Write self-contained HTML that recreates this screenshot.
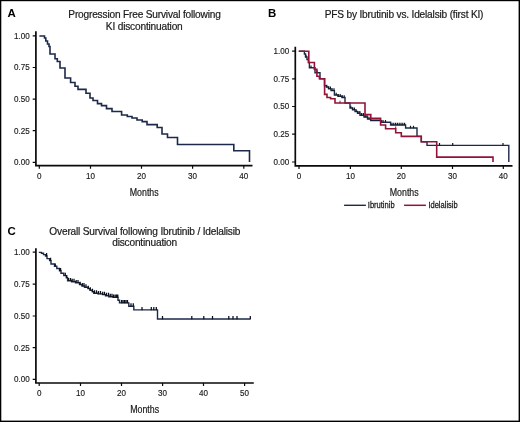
<!DOCTYPE html>
<html lang="en">
<head>
<meta charset="utf-8">
<title>Survival following KI discontinuation</title>
<style>
html,body{margin:0;padding:0;background:#fff;}
body{width:520px;height:422px;overflow:hidden;}
svg{display:block;}
text{font-family:"Liberation Sans",Arial,Helvetica,sans-serif;fill:#1a1a1a;}
.tk{font-size:8.6px;stroke:#1a1a1a;stroke-width:0.15px;}
.tt{font-size:10.4px;letter-spacing:-0.19px;stroke:#1a1a1a;stroke-width:0.2px;}
.pl{font-size:11.8px;font-weight:bold;fill:#000;}
.mo{font-size:10.2px;stroke:#1a1a1a;stroke-width:0.2px;}
.lg{font-size:8.2px;stroke:#1a1a1a;stroke-width:0.25px;}
</style>
</head>
<body>
<svg width="520" height="422" viewBox="0 0 520 422">
<rect x="0" y="0" width="520" height="422" fill="#fff"/>
<rect x="0.6" y="0.5" width="518.7" height="420.8" fill="none" stroke="#000" stroke-width="1.4"/>
<path d="M35.9,31.2 V165.7 H252.5" fill="none" stroke="#0a0a0a" stroke-width="1.7" stroke-linejoin="miter"/>
<path d="M32.699999999999996,35.9H35.9 M32.699999999999996,67.5H35.9 M32.699999999999996,99.2H35.9 M32.699999999999996,130.7H35.9 M32.699999999999996,162.4H35.9 M39.3,165.7V168.7 M90.5,165.7V168.7 M141.5,165.7V168.7 M192.6,165.7V168.7 M243.8,165.7V168.7" fill="none" stroke="#0a0a0a" stroke-width="1.2"/>
<text transform="translate(29.7,38.75) scale(0.94,1)" text-anchor="end" class="tk">1.00</text>
<text transform="translate(29.7,70.35) scale(0.94,1)" text-anchor="end" class="tk">0.75</text>
<text transform="translate(29.7,102.05) scale(0.94,1)" text-anchor="end" class="tk">0.50</text>
<text transform="translate(29.7,133.55) scale(0.94,1)" text-anchor="end" class="tk">0.25</text>
<text transform="translate(29.7,165.25) scale(0.94,1)" text-anchor="end" class="tk">0.00</text>
<text transform="translate(39.3,179.2) scale(0.94,1)" text-anchor="middle" class="tk">0</text>
<text transform="translate(90.5,179.2) scale(0.94,1)" text-anchor="middle" class="tk">10</text>
<text transform="translate(141.5,179.2) scale(0.94,1)" text-anchor="middle" class="tk">20</text>
<text transform="translate(192.6,179.2) scale(0.94,1)" text-anchor="middle" class="tk">30</text>
<text transform="translate(243.8,179.2) scale(0.94,1)" text-anchor="middle" class="tk">40</text>
<path d="M39.4,36 H44.5 V38 H45.8 V41 H47.5 V44 H49 V46.5 H50 V54 H55 V58.7 H57.3 V61.5 H60 V68 H65 V78 H70.6 V82.5 H75 V86.3 H78 V89.4 H86 V93.3 H90 V98 H93 V100.5 H97.5 V103.6 H101.5 V105.6 H106.5 V108.6 H112 V111.5 H121.6 V115 H127.3 V116.5 H132 V118 H137 V120 H142.2 V121.6 H147 V124.6 H157.2 V127.5 H162 V134 H167.5 V137.5 H177.5 V144.5 H233.8 V150.8 H249.5 V162" fill="none" stroke="#1c2949" stroke-width="1.6" stroke-linejoin="miter"/>
<path d="M295.3,46.8 V165.9 H512.5" fill="none" stroke="#0a0a0a" stroke-width="1.7" stroke-linejoin="miter"/>
<path d="M292.1,51.2H295.3 M292.1,78.8H295.3 M292.1,106.5H295.3 M292.1,134.2H295.3 M292.1,162H295.3 M299,165.9V168.9 M350.4,165.9V168.9 M401.3,165.9V168.9 M452.5,165.9V168.9 M503.3,165.9V168.9" fill="none" stroke="#0a0a0a" stroke-width="1.2"/>
<text transform="translate(289.3,54.05) scale(0.94,1)" text-anchor="end" class="tk">1.00</text>
<text transform="translate(289.3,81.65) scale(0.94,1)" text-anchor="end" class="tk">0.75</text>
<text transform="translate(289.3,109.35) scale(0.94,1)" text-anchor="end" class="tk">0.50</text>
<text transform="translate(289.3,137.05) scale(0.94,1)" text-anchor="end" class="tk">0.25</text>
<text transform="translate(289.3,164.85) scale(0.94,1)" text-anchor="end" class="tk">0.00</text>
<text transform="translate(299,179.1) scale(0.94,1)" text-anchor="middle" class="tk">0</text>
<text transform="translate(350.4,179.1) scale(0.94,1)" text-anchor="middle" class="tk">10</text>
<text transform="translate(401.3,179.1) scale(0.94,1)" text-anchor="middle" class="tk">20</text>
<text transform="translate(452.5,179.1) scale(0.94,1)" text-anchor="middle" class="tk">30</text>
<text transform="translate(503.3,179.1) scale(0.94,1)" text-anchor="middle" class="tk">40</text>
<path d="M298.8,51.2 H304.4 V54 H305.5 V57 H307 V59.5 H308.3 V62.5 H309.4 V67.7 H315 V72.7 H320 V78.7 H324.5 V85.6 H326.3 V87 H328.5 V88.7 H331 V90.6 H334.4 V95 H338 V96.2 H342 V97.5 H345 V103 H350 V108 H352.5 V109.8 H355 V111.5 H357.5 V113.2 H360 V115.2 H364 V117 H367.5 V119 H370.6 V120.6 H381.3 V122.3 H390.6 V125 H405.6 V128 H417 V136.4 H421.3 V141.8 H427 V145.4 H508.8 V162" fill="none" stroke="#1c2949" stroke-width="1.4" stroke-linejoin="miter"/>
<path d="M306,57.3v-2.6 M311,68.0v-2.6 M317,73.0v-2.6 M326.8,87.3v-2.6 M328.6,89.0v-2.6 M330.4,89.0v-2.6 M332.2,90.89999999999999v-2.6 M334,90.89999999999999v-2.6 M336.2,95.3v-2.6 M338.2,96.5v-2.6 M340.2,96.5v-2.6 M342.2,97.8v-2.6 M344.2,97.8v-2.6 M350.8,108.3v-2.6 M352.6,110.1v-2.6 M354.4,110.1v-2.6 M356.2,111.8v-2.6 M358,113.5v-2.6 M359.8,113.5v-2.6 M361.6,115.5v-2.6 M363.4,115.5v-2.6 M365.2,117.3v-2.6 M367,117.3v-2.6 M369,119.3v-2.6 M372,120.89999999999999v-2.6 M374,120.89999999999999v-2.6 M376,120.89999999999999v-2.6 M378,120.89999999999999v-2.6 M380,120.89999999999999v-2.6 M383,122.6v-2.6 M385.5,122.6v-2.6 M392,125.3v-2.6 M393.8,125.3v-2.6 M395.6,125.3v-2.6 M397.4,125.3v-2.6 M399.2,125.3v-2.6 M401,125.3v-2.6 M402.8,125.3v-2.6 M404.6,125.3v-2.6 M410.5,128.3v-2.6 M413.5,128.3v-2.6 M439.5,145.70000000000002v-2.6 M452.7,145.70000000000002v-2.6 M503,145.70000000000002v-2.6" fill="none" stroke="#111827" stroke-width="1.2"/>
<path d="M298.8,51.2 H308.8 V62.5 H314.4 V69.4 H316.9 V76.2 H319.4 V78.7 H324.6 V94.4 H327 V97.5 H330.6 V98.8 H335 V103 H365 V114.6 H370.8 V118.2 H380.6 V125 H385.6 V128.7 H395.7 V132.7 H401.3 V136.4 H421.3 V141.8 H436.7 V157.1 H493 V162" fill="none" stroke="#931338" stroke-width="1.6" stroke-linejoin="miter"/>
<path d="M340,103.3v-2.6 M395.7,129.0v-2.6" fill="none" stroke="#931338" stroke-width="1"/>
<path d="M344.1,205.3H365.9" stroke="#1c2949" stroke-width="1.4"/>
<path d="M404.1,205.3H425.9" stroke="#931338" stroke-width="1.5"/>
<text transform="translate(367.8,208) scale(0.92,1)" text-anchor="start" class="lg">Ibrutinib</text>
<text transform="translate(428.4,208) scale(0.92,1)" text-anchor="start" class="lg">Idelalisib</text>
<path d="M35.9,248.2 V383.0 H253.8" fill="none" stroke="#0a0a0a" stroke-width="1.7" stroke-linejoin="miter"/>
<path d="M32.699999999999996,252.2H35.9 M32.699999999999996,284.2H35.9 M32.699999999999996,316H35.9 M32.699999999999996,347.7H35.9 M32.699999999999996,379.3H35.9 M39.2,383.0V386.0 M80.5,383.0V386.0 M121.5,383.0V386.0 M162.6,383.0V386.0 M203.5,383.0V386.0 M244.6,383.0V386.0" fill="none" stroke="#0a0a0a" stroke-width="1.2"/>
<text transform="translate(29.7,255.05) scale(0.94,1)" text-anchor="end" class="tk">1.00</text>
<text transform="translate(29.7,287.05) scale(0.94,1)" text-anchor="end" class="tk">0.75</text>
<text transform="translate(29.7,318.85) scale(0.94,1)" text-anchor="end" class="tk">0.50</text>
<text transform="translate(29.7,350.55) scale(0.94,1)" text-anchor="end" class="tk">0.25</text>
<text transform="translate(29.7,382.15) scale(0.94,1)" text-anchor="end" class="tk">0.00</text>
<text transform="translate(39.2,396.0) scale(0.94,1)" text-anchor="middle" class="tk">0</text>
<text transform="translate(80.5,396.0) scale(0.94,1)" text-anchor="middle" class="tk">10</text>
<text transform="translate(121.5,396.0) scale(0.94,1)" text-anchor="middle" class="tk">20</text>
<text transform="translate(162.6,396.0) scale(0.94,1)" text-anchor="middle" class="tk">30</text>
<text transform="translate(203.5,396.0) scale(0.94,1)" text-anchor="middle" class="tk">40</text>
<text transform="translate(244.6,396.0) scale(0.94,1)" text-anchor="middle" class="tk">50</text>
<path d="M38.8,252.4 H41.5 V253.2 H43.5 V254.6 H45.5 V256 H47 V258.6 H49.6 V260.6 H51 V264 H54.5 V266.3 H56.8 V268.5 H59.5 V270.8 H61 V273.2 H63.8 V275.6 H66.3 V277.8 H67.6 V280.8 H71.5 V281.7 H75.5 V282.8 H79.5 V284.6 H82 V286 H84.5 V287.2 H88 V288.6 H90 V290.2 H92.3 V291.7 H93.8 V293.2 H98 V293.9 H102.5 V294.6 H105.5 V295.7 H108.8 V296.7 H113 V297.4 H118 V300.2 H119.5 V302.9 H128.8 V306.2 H133.8 V309.9 H157.5 V319 H250.5" fill="none" stroke="#1c2949" stroke-width="1.4" stroke-linejoin="miter"/>
<path d="M46.6,256.3v-3.2 M50.6,260.90000000000003v-3.2 M55.3,266.6v-3.2 M59.8,271.1v-3.2 M60.6,271.1v-3.2 M65.3,275.90000000000003v-3.2 M66.8,278.1v-3.2 M68.6,281.1v-3.2 M70.5,281.1v-3.2 M72.2,282.0v-3.2 M74,282.0v-3.2 M76.2,283.1v-3.2 M78,283.1v-3.2 M80.2,284.90000000000003v-3.2 M82.3,286.3v-3.2 M84,286.3v-3.2 M86,287.5v-3.2 M88.3,288.90000000000003v-3.2 M90.3,290.5v-3.2 M92.5,292.0v-3.2 M94.5,293.5v-3.2 M96.5,293.5v-3.2 M98.5,294.2v-3.2 M100.5,294.2v-3.2 M102.7,294.90000000000003v-3.2 M104.5,294.90000000000003v-3.2 M106.5,296.0v-3.2 M108.5,296.0v-3.2 M110.3,297.0v-3.2 M112,297.0v-3.2 M113.6,297.7v-3.2 M115.2,297.7v-3.2 M116.6,297.7v-3.2 M117.8,297.7v-3.2 M121.5,303.2v-3.2 M123,303.2v-3.2 M124.5,303.2v-3.2 M126,303.2v-3.2 M127.5,303.2v-3.2 M131,306.5v-3.2 M133.3,306.5v-3.2 M142,310.2v-3.2 M151.3,310.2v-3.2 M153.8,310.2v-3.2 M156.3,310.2v-3.2 M162.5,319.3v-3.2 M191.8,319.3v-3.2 M203.8,319.3v-3.2 M212.5,319.3v-3.2 M228.8,319.3v-3.2 M233,319.3v-3.2 M237,319.3v-3.2 M250.3,319.3v-3.2" fill="none" stroke="#0b0f1a" stroke-width="1.25"/>
<text transform="translate(144.5,17.6) scale(0.975,1)" text-anchor="middle" class="tt">Progression Free Survival following</text>
<text transform="translate(144.2,29.8) scale(0.975,1)" text-anchor="middle" class="tt">KI discontinuation</text>
<text transform="translate(404,17.6) scale(0.975,1)" text-anchor="middle" class="tt">PFS by Ibrutinib vs. Idelalsib (first KI)</text>
<text transform="translate(144.8,234.6) scale(0.975,1)" text-anchor="middle" class="tt">Overall Survival following Ibrutinib / Idelalisib</text>
<text transform="translate(144.6,246.3) scale(0.975,1)" text-anchor="middle" class="tt">discontinuation</text>
<text transform="translate(7.5,17.3) scale(0.97,1)" text-anchor="start" class="pl">A</text>
<text transform="translate(268.0,17.3) scale(0.97,1)" text-anchor="start" class="pl">B</text>
<text transform="translate(7.5,235.3) scale(0.97,1)" text-anchor="start" class="pl">C</text>
<text transform="translate(144.2,196) scale(0.865,1)" text-anchor="middle" class="mo">Months</text>
<text transform="translate(404.2,196.0) scale(0.865,1)" text-anchor="middle" class="mo">Months</text>
<text transform="translate(144.6,412.9) scale(0.865,1)" text-anchor="middle" class="mo">Months</text>
</svg>
</body>
</html>
